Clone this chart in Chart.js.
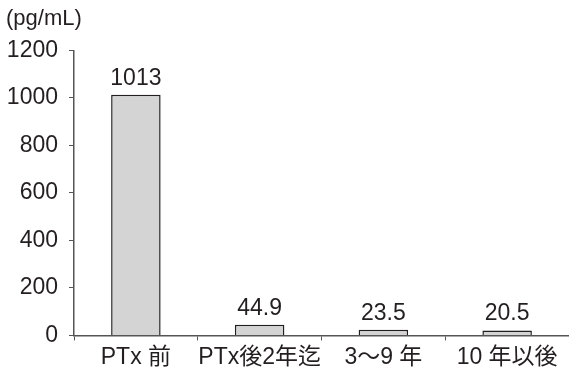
<!DOCTYPE html>
<html>
<head>
<meta charset="utf-8">
<script src="https://cdn.jsdelivr.net/npm/chart.js@4.4.1/dist/chart.umd.min.js"></script>
<style>
  body { margin: 0; background: #fff; }
</style>
</head>
<body>
<canvas id="pthChart" width="569" height="374"></canvas>
<script>
const categories = ["PTx 前", "PTx後2年迄", "3〜9 年", "10 年以後"];
const pthValues = [1013, 44.9, 23.5, 20.5];
const valueLabels = ["1013", "44.9", "23.5", "20.5"];
const yTicks = [0, 200, 400, 600, 800, 1000, 1200];

const fontFamily = "'Liberation Sans', 'Noto Sans CJK JP', sans-serif";
const textColor = "#231f20";
const axisColor = "#555555";

// value labels above each bar
const barLabels = {
    id: "barLabels",
    afterDatasetsDraw(chart) {
        const ctx = chart.ctx;
        const meta = chart.getDatasetMeta(0);
        ctx.save();
        ctx.font = "23px " + fontFamily;
        ctx.fillStyle = textColor;
        ctx.textAlign = "center";
        ctx.textBaseline = "bottom";
        meta.data.forEach((bar, i) => {
            ctx.fillText(valueLabels[i], bar.x, bar.y - 5);
        });
        ctx.restore();
    }
};

new Chart(document.getElementById("pthChart"), {
    type: "bar",
    data: {
        labels: categories,
        datasets: [{
            data: pthValues,
            backgroundColor: "#d4d4d4",
            borderColor: "#231f20",
            borderWidth: 1.5,
            barPercentage: 0.4,
            categoryPercentage: 1
        }]
    },
    options: {
        responsive: false,
        animation: false,
        layout: { padding: { left: 6, right: 0, top: 0, bottom: 0 } },
        plugins: {
            legend: { display: false },
            tooltip: { enabled: false },
            title: {
                display: true,
                text: "(pg/mL)",
                align: "start",
                color: textColor,
                font: { family: fontFamily, size: 22, weight: "normal" },
                padding: { top: 6, bottom: 18 }
            }
        },
        scales: {
            x: {
                grid: { offset: true, drawOnChartArea: false, drawTicks: true, tickLength: 5, color: axisColor },
                border: { color: axisColor, width: 1.5 },
                ticks: {
                    color: textColor,
                    font: { family: fontFamily, size: 23 },
                    padding: 3,
                    maxRotation: 0,
                    minRotation: 0,
                    autoSkip: false
                }
            },
            y: {
                min: 0,
                max: 1200,
                afterBuildTicks: axis => { axis.ticks = yTicks.map(v => ({ value: v })); },
                afterFit: axis => { axis.width = 68; },
                grid: { drawOnChartArea: false, drawTicks: true, tickLength: 5, color: axisColor },
                border: { color: axisColor, width: 1.5 },
                ticks: {
                    color: textColor,
                    font: { family: fontFamily, size: 23 },
                    padding: 11,
                    callback: v => String(v)
                }
            }
        }
    },
    plugins: [barLabels]
});
</script>
</body>
</html>
